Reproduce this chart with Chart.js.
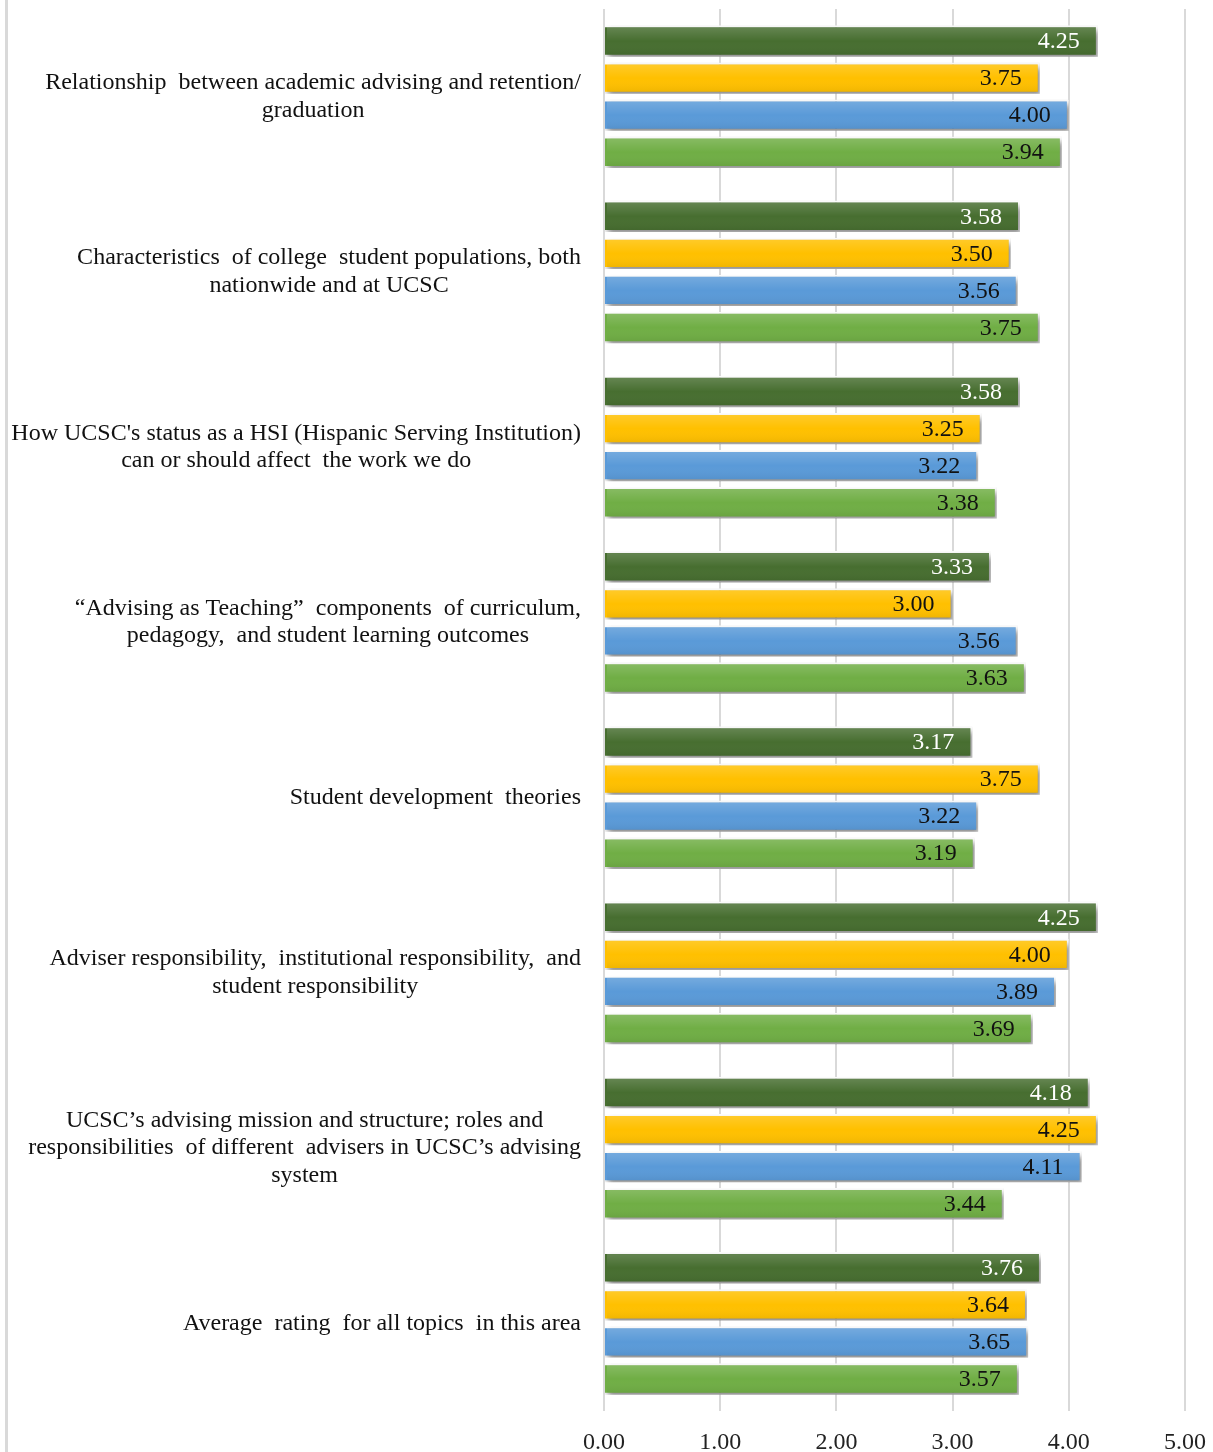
<!DOCTYPE html>
<html>
<head>
<meta charset="utf-8">
<script src="https://cdn.jsdelivr.net/npm/chart.js@4.4.1/dist/chart.umd.min.js"></script>
<style>
  html, body { margin: 0; padding: 0; background: #fff; }
  #wrap { width: 1213px; height: 1452px; position: relative; }
</style>
</head>
<body>
<div id="wrap"><canvas id="myChart"></canvas></div>
<script>
const topics = [
    ['Relationship  between academic advising and retention/', 'graduation'],
    ['Characteristics  of college  student populations, both', 'nationwide and at UCSC'],
    ["How UCSC's status as a HSI (Hispanic Serving Institution)", 'can or should affect  the work we do'],
    ['\u201cAdvising as Teaching\u201d  components  of curriculum,', 'pedagogy,  and student learning outcomes'],
    ['Student development  theories'],
    ['Adviser responsibility,  institutional responsibility,  and', 'student responsibility'],
    ['UCSC\u2019s advising mission and structure; roles and', 'responsibilities  of different  advisers in UCSC\u2019s advising', 'system'],
    ['Average  rating  for all topics  in this area']
]
const series1 = [4.25, 3.58, 3.58, 3.33, 3.17, 4.25, 4.18, 3.76]
const series2 = [3.75, 3.50, 3.25, 3.00, 3.75, 4.00, 4.25, 3.64]
const series3 = [4.00, 3.56, 3.22, 3.56, 3.22, 3.89, 4.11, 3.65]
const series4 = [3.94, 3.75, 3.38, 3.63, 3.19, 3.69, 3.44, 3.57]
const xTicks = [0, 1, 2, 3, 4, 5]

const FONT = '"Liberation Serif", "DejaVu Serif", serif'

// shadow under the bars, and a soft sheen on top of each bar
const barShadow = {
    id: 'barShadow',
    beforeDatasetsDraw(chart){
        const ctx = chart.ctx
        ctx.save()
        ctx.shadowColor = 'rgba(0,0,0,0.45)'
        ctx.shadowBlur = 6
        ctx.shadowOffsetX = 3
        ctx.shadowOffsetY = 4
    },
    afterDatasetsDraw(chart){
        const ctx = chart.ctx
        ctx.restore()
        ctx.save()
        chart.data.datasets.forEach((ds, di) => {
            chart.getDatasetMeta(di).data.forEach(bar => {
                const top = bar.y - bar.height / 2 + 2
                const h = bar.height - 4
                const g = ctx.createLinearGradient(0, top, 0, top + h)
                g.addColorStop(0, 'rgba(255,255,255,0.16)')
                g.addColorStop(0.5, 'rgba(255,255,255,0)')
                g.addColorStop(1, 'rgba(0,0,0,0.06)')
                ctx.fillStyle = g
                ctx.fillRect(bar.base + 2, top, bar.x - bar.base - 4, h)
            })
        })
        ctx.restore()
    }
}

// value labels inside the bar ends + category labels on the left
const textPlugin = {
    id: 'textPlugin',
    afterDraw(chart){
        const ctx = chart.ctx
        ctx.save()
        // frame line on the left
        ctx.fillStyle = '#d9d9d9'
        ctx.fillRect(5, 0, 3, chart.height)

        ctx.font = '24px ' + FONT
        ctx.textBaseline = 'middle'
        ctx.textAlign = 'right'
        chart.data.datasets.forEach((ds, di) => {
            const meta = chart.getDatasetMeta(di)
            meta.data.forEach((bar, i) => {
                ctx.fillStyle = ds.labelColor
                ctx.fillText(ds.data[i].toFixed(2), bar.x - 18, bar.y + 1)
            })
        })

        const yScale = chart.scales.y
        const lineH = 27.5
        const rightEdge = 581
        ctx.fillStyle = '#111'
        ctx.textAlign = 'center'
        topics.forEach((lines, i) => {
            const cy = yScale.getPixelForValue(i)
            const w = Math.max(...lines.map(l => ctx.measureText(l).width))
            const cx = rightEdge - w / 2
            const y0 = cy - (lines.length - 1) * lineH / 2
            lines.forEach((l, k) => ctx.fillText(l, cx, y0 + k * lineH))
        })
        ctx.restore()
    }
}

const ctx = document.getElementById('myChart')
new Chart(ctx, {
    type: 'bar',
    data: {
        labels: topics.map(t => t.join(' ')),
        datasets: [
            { label: 'Series 1', data: series1, backgroundColor: '#476e30', labelColor: '#ffffff' },
            { label: 'Series 2', data: series2, backgroundColor: '#ffc000', labelColor: '#111111' },
            { label: 'Series 3', data: series3, backgroundColor: '#5a9ad8', labelColor: '#111111' },
            { label: 'Series 4', data: series4, backgroundColor: '#70ae45', labelColor: '#111111' }
        ].map(d => Object.assign(d, {
            borderColor: '#ffffff',
            borderWidth: 2,
            categoryPercentage: 0.845,
            barPercentage: 0.85
        }))
    },
    options: {
        indexAxis: 'y',
        responsive: true,
        maintainAspectRatio: false,
        animation: false,
        layout: { padding: { top: 9, right: 28, bottom: 0, left: 0 } },
        scales: {
            x: {
                min: 0,
                max: 5,
                afterBuildTicks: axis => { axis.ticks = xTicks.map(v => ({ value: v })) },
                afterFit: axis => {
                    axis.height = 41
                    axis.paddingLeft = 0
                    axis.paddingRight = 0
                },
                grid: { color: '#d9d9d9', lineWidth: 2, drawTicks: false },
                border: { display: false },
                ticks: {
                    padding: 17,
                    color: '#222',
                    font: { family: FONT, size: 24 },
                    callback: v => Number(v).toFixed(2)
                }
            },
            y: {
                grid: { display: false },
                border: { display: false },
                ticks: { display: false },
                afterFit: axis => { axis.width = 604 }
            }
        },
        plugins: {
            legend: { display: false },
            tooltip: { enabled: false }
        }
    },
    plugins: [barShadow, textPlugin]
})
</script>
</body>
</html>
